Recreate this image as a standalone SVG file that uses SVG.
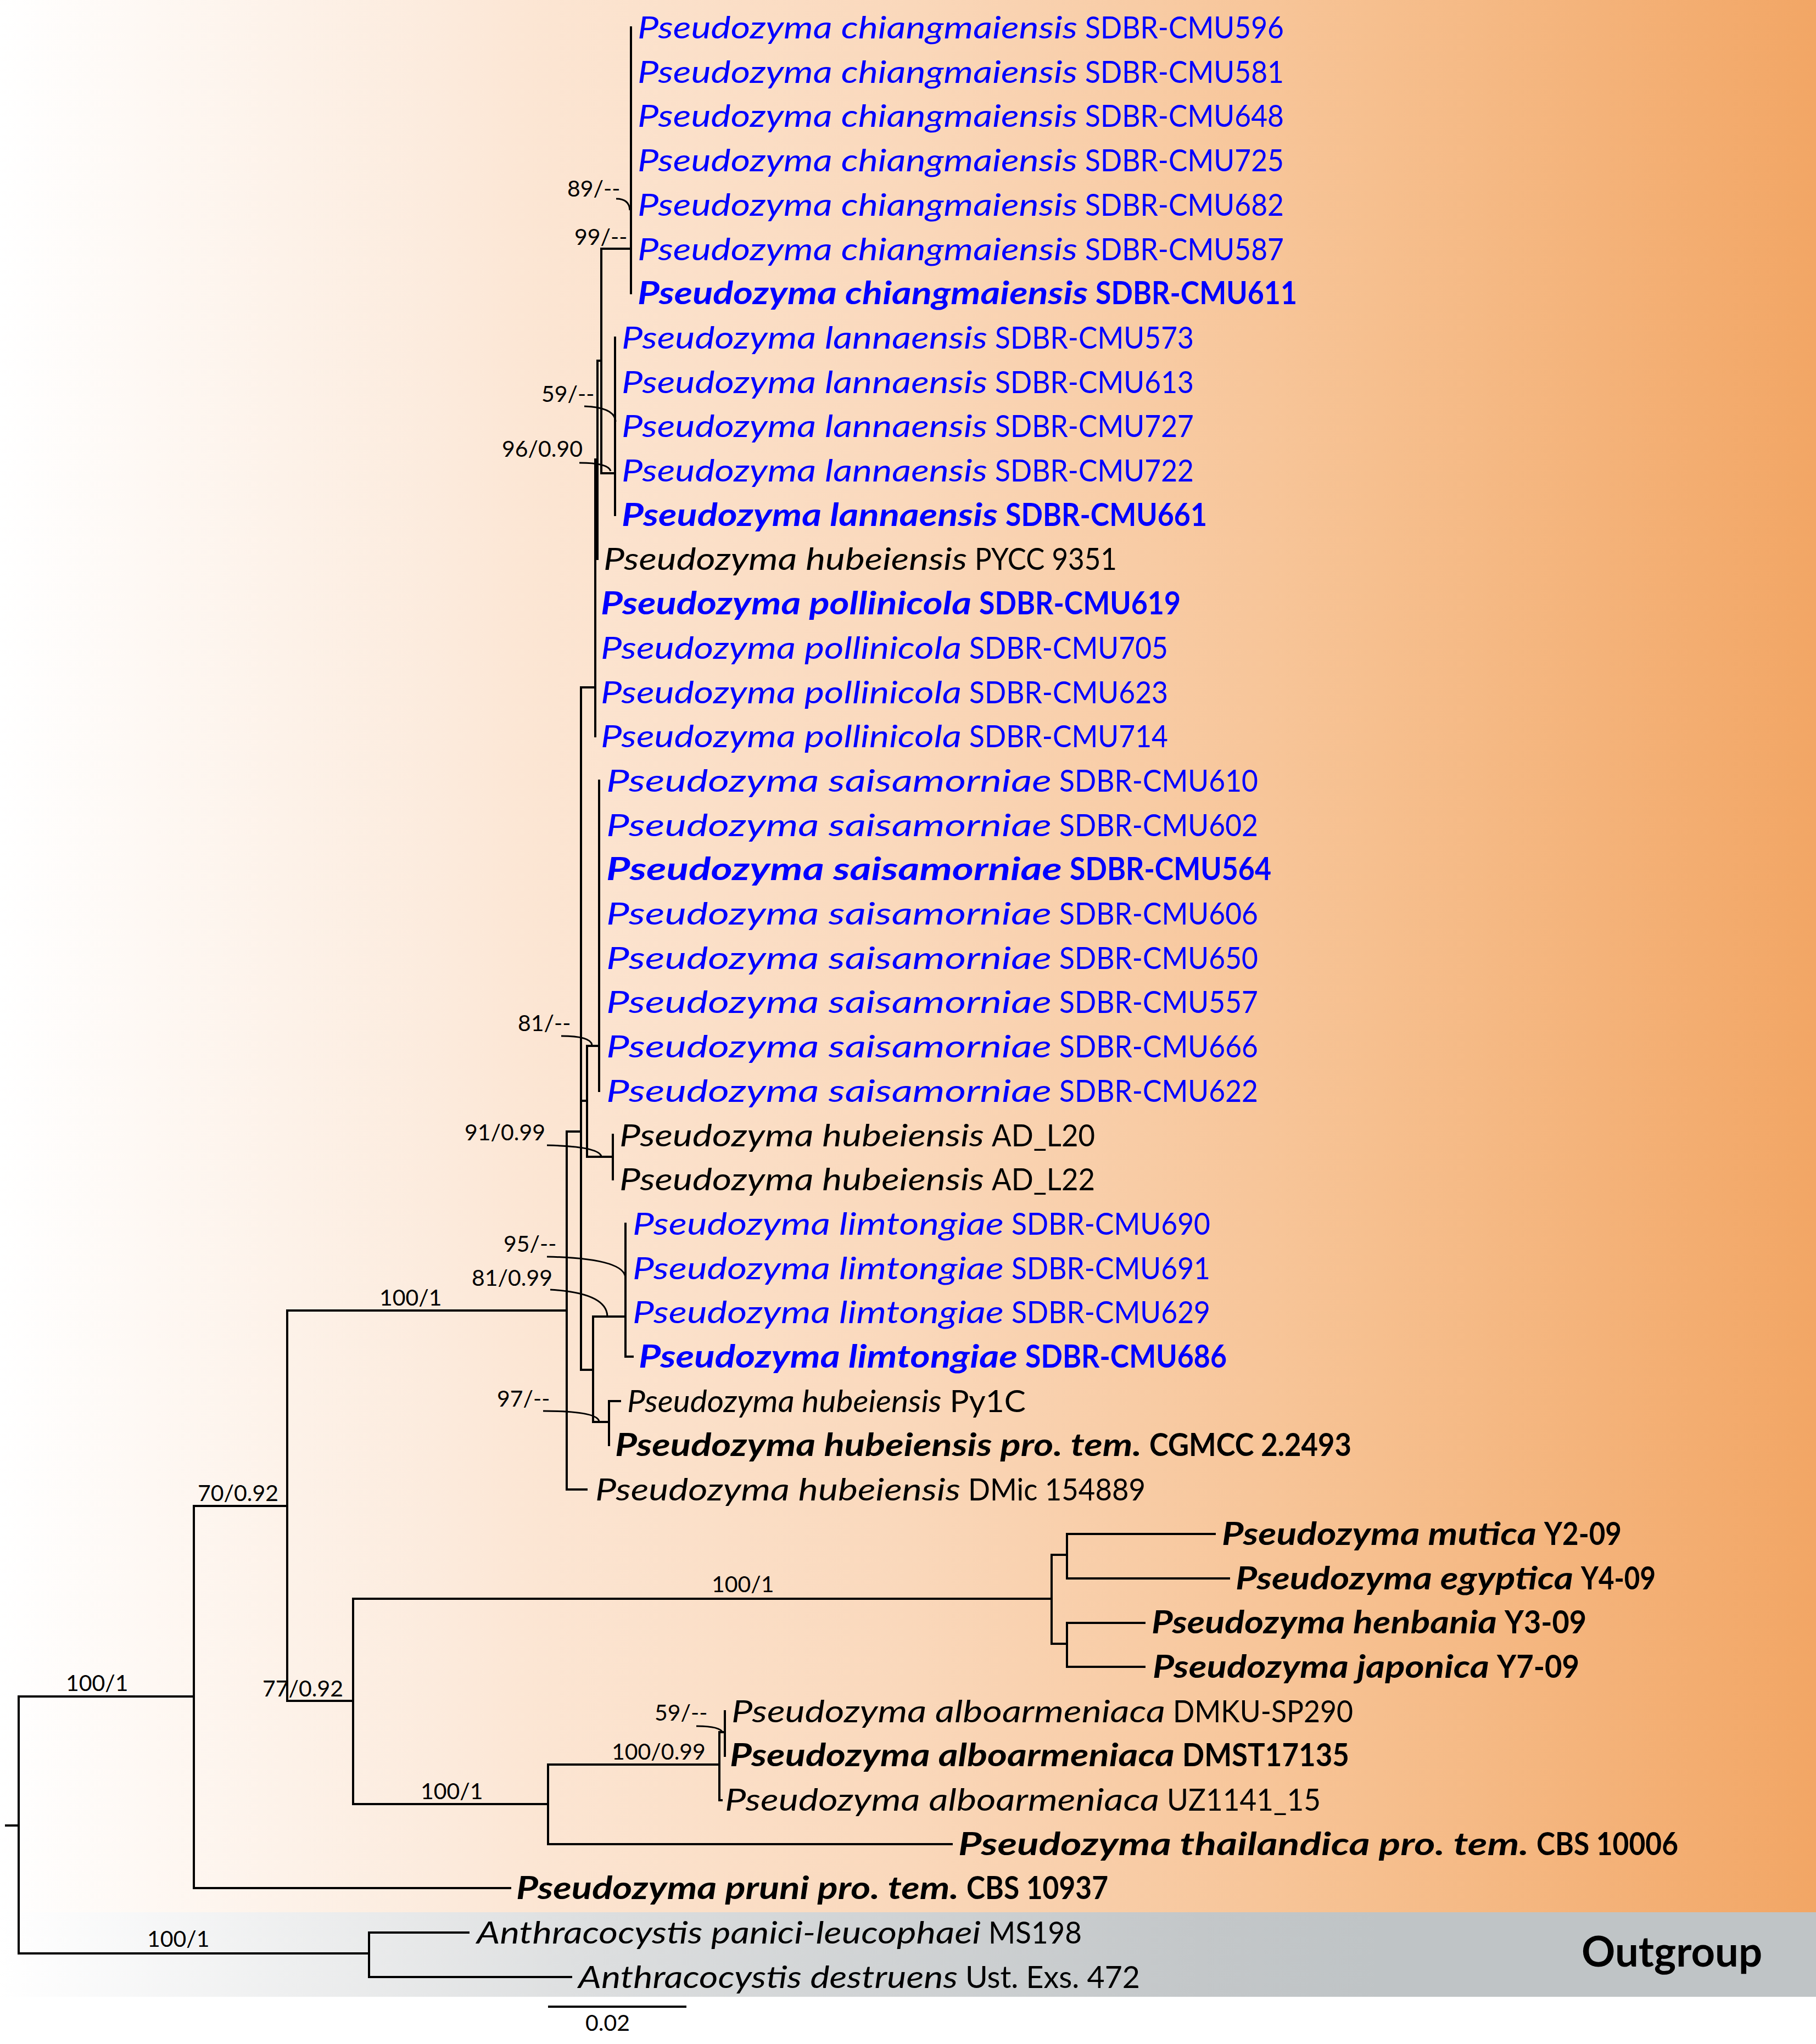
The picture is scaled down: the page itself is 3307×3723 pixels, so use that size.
<svg xmlns="http://www.w3.org/2000/svg" width="3307" height="3723" viewBox="0 0 3307 3723">
<defs>
<linearGradient id="og" x1="0" y1="0" x2="1" y2="0">
<stop offset="0" stop-color="#FFFFFF"/>
<stop offset="0.24" stop-color="#FCEBDD"/>
<stop offset="0.29" stop-color="#FCE6D4"/>
<stop offset="0.5" stop-color="#FAD8BB"/>
<stop offset="0.76" stop-color="#F6BF8E"/>
<stop offset="1" stop-color="#F2A665"/>
</linearGradient>
<linearGradient id="gg" x1="0" y1="0" x2="1" y2="0">
<stop offset="0" stop-color="#FFFFFF"/>
<stop offset="0.33" stop-color="#DCDEDF"/>
<stop offset="0.66" stop-color="#C3C7C9"/>
<stop offset="0.76" stop-color="#BFC4C6"/>
<stop offset="1" stop-color="#BFC4C6"/>
</linearGradient>
<style>
.t{font-family:Lato,'Open Sans','Liberation Sans',sans-serif;font-size:57px}
.b{fill:#0000FF}
.k{fill:#000000}
.i{font-style:italic}
.bd{font-weight:bold}
.s{font-family:Lato,'Liberation Sans',sans-serif;font-size:41px;fill:#000}
.br{stroke:#000;stroke-width:4;fill:none;stroke-linecap:square}
.ld{stroke:#000;stroke-width:3;fill:none}
.og{font-family:Lato,'Liberation Sans',sans-serif;font-size:76px;font-weight:bold;fill:#000}
</style>
</defs>
<rect x="0" y="0" width="3307" height="3723" fill="#FFFFFF"/>
<rect x="0" y="0" width="3307" height="3483" fill="url(#og)"/>
<rect x="0" y="3483" width="3307" height="154" fill="url(#gg)"/>

<g id="connectors">
<path class="br" d="M11,3325H34 M34,3090V3558 M34,3090H353 M34,3558H672 M672,3520V3601 M672,3520H853 M672,3601H1040
M353,2743V3439 M353,2743H523 M353,3439H929
M523,2387V3098 M523,2387H1032 M523,3098H643
M643,2912V3286 M643,2912H1915 M643,3286H998
M1915,2832V2994 M1915,2832H1943 M1915,2994H1943
M1943,2794V2875 M1943,2794H2212 M1943,2875H2238
M1943,2956V3036 M1943,2956H2084 M1943,3036H2084
M998,3214V3359 M998,3214H1310 M998,3359H1733
M1310,3155V3279 M1310,3155H1320 M1320,3117V3198 M1310,3279H1314
M1032,2061V2713 M1032,2061H1058 M1032,2713H1068
M1058,1252V2495 M1058,1252H1084 M1058,2005H1069 M1058,2495H1080
M1069,1905V2107 M1069,1905H1091 M1069,2107H1116
M1091,1422V1987 M1116,2067V2148
M1080,2398V2590 M1080,2398H1139 M1080,2590H1109
M1139,2229V2471 M1139,2471H1152
M1109,2552V2632 M1109,2552H1129
M1084,837V1341 M1084,837H1088
M1088,657V1018 M1088,657H1095
M1095,453V862 M1095,453H1149 M1095,862H1120
M1149,50V534 M1120,615V938
M1000,3655H1248"/>
<path class="ld" d="M1122,362Q1146,362 1147,383 M1064,740Q1120,742 1121,768 M1055,843Q1108,843 1112,858 M1022,1887Q1075,1887 1078,1903 M996,2086Q1090,2088 1095,2106 M996,2289Q1138,2292 1139,2328 M1002,2349Q1104,2355 1106,2397 M989,2570Q1088,2570 1091,2589 M1268,3144Q1312,3144 1316,3156"/>
</g>

<g id="supports">
<text class="s" x="1033" y="358">89/--</text>
<text class="s" x="1046" y="446">99/--</text>
<text class="s" x="986" y="732">59/--</text>
<text class="s" x="914" y="832">96/0.90</text>
<text class="s" x="943" y="1878">81/--</text>
<text class="s" x="846" y="2077">91/0.99</text>
<text class="s" x="917" y="2280">95/--</text>
<text class="s" x="859" y="2342">81/0.99</text>
<text class="s" x="905" y="2562">97/--</text>
<text class="s" x="691" y="2378">100/1</text>
<text class="s" x="360" y="2734">70/0.92</text>
<text class="s" x="1296" y="2900">100/1</text>
<text class="s" x="478" y="3090">77/0.92</text>
<text class="s" x="1192" y="3134">59/--</text>
<text class="s" x="1114" y="3205">100/0.99</text>
<text class="s" x="766" y="3277">100/1</text>
<text class="s" x="120" y="3080">100/1</text>
<text class="s" x="268" y="3546">100/1</text>
<text class="s" x="1066" y="3699">0.02</text>
</g>

<g id="n0"><text class="t b i" x="1161" y="70" textLength="801" lengthAdjust="spacingAndGlyphs">Pseudozyma chiangmaiensis</text><text class="t b" x="1976" y="70" textLength="362" lengthAdjust="spacingAndGlyphs">SDBR-CMU596</text></g>
<g id="n1"><text class="t b i" x="1161" y="150.7" textLength="801" lengthAdjust="spacingAndGlyphs">Pseudozyma chiangmaiensis</text><text class="t b" x="1976" y="150.7" textLength="362" lengthAdjust="spacingAndGlyphs">SDBR-CMU581</text></g>
<g id="n2"><text class="t b i" x="1161" y="231.4" textLength="801" lengthAdjust="spacingAndGlyphs">Pseudozyma chiangmaiensis</text><text class="t b" x="1976" y="231.4" textLength="362" lengthAdjust="spacingAndGlyphs">SDBR-CMU648</text></g>
<g id="n3"><text class="t b i" x="1161" y="312.1" textLength="801" lengthAdjust="spacingAndGlyphs">Pseudozyma chiangmaiensis</text><text class="t b" x="1976" y="312.1" textLength="362" lengthAdjust="spacingAndGlyphs">SDBR-CMU725</text></g>
<g id="n4"><text class="t b i" x="1161" y="392.8" textLength="801" lengthAdjust="spacingAndGlyphs">Pseudozyma chiangmaiensis</text><text class="t b" x="1976" y="392.8" textLength="362" lengthAdjust="spacingAndGlyphs">SDBR-CMU682</text></g>
<g id="n5"><text class="t b i" x="1161" y="473.5" textLength="801" lengthAdjust="spacingAndGlyphs">Pseudozyma chiangmaiensis</text><text class="t b" x="1976" y="473.5" textLength="362" lengthAdjust="spacingAndGlyphs">SDBR-CMU587</text></g>
<g id="n6"><text class="t b i bd" x="1161" y="554.2" textLength="820" lengthAdjust="spacingAndGlyphs">Pseudozyma chiangmaiensis</text><text class="t b bd" x="1995" y="554.2" textLength="367" lengthAdjust="spacingAndGlyphs">SDBR-CMU611</text></g>
<g id="n7"><text class="t b i" x="1132" y="634.9" textLength="666" lengthAdjust="spacingAndGlyphs">Pseudozyma lannaensis</text><text class="t b" x="1812" y="634.9" textLength="362" lengthAdjust="spacingAndGlyphs">SDBR-CMU573</text></g>
<g id="n8"><text class="t b i" x="1132" y="715.6" textLength="666" lengthAdjust="spacingAndGlyphs">Pseudozyma lannaensis</text><text class="t b" x="1812" y="715.6" textLength="362" lengthAdjust="spacingAndGlyphs">SDBR-CMU613</text></g>
<g id="n9"><text class="t b i" x="1132" y="796.3" textLength="666" lengthAdjust="spacingAndGlyphs">Pseudozyma lannaensis</text><text class="t b" x="1812" y="796.3" textLength="362" lengthAdjust="spacingAndGlyphs">SDBR-CMU727</text></g>
<g id="n10"><text class="t b i" x="1132" y="877" textLength="666" lengthAdjust="spacingAndGlyphs">Pseudozyma lannaensis</text><text class="t b" x="1812" y="877" textLength="362" lengthAdjust="spacingAndGlyphs">SDBR-CMU722</text></g>
<g id="n11"><text class="t b i bd" x="1132" y="957.7" textLength="685" lengthAdjust="spacingAndGlyphs">Pseudozyma lannaensis</text><text class="t b bd" x="1831" y="957.7" textLength="367" lengthAdjust="spacingAndGlyphs">SDBR-CMU661</text></g>
<g id="n12"><text class="t k i" x="1099" y="1038.4" textLength="662" lengthAdjust="spacingAndGlyphs">Pseudozyma hubeiensis</text><text class="t k" x="1775" y="1038.4" textLength="259" lengthAdjust="spacingAndGlyphs">PYCC 9351</text></g>
<g id="n13"><text class="t b i bd" x="1094" y="1119.1" textLength="675" lengthAdjust="spacingAndGlyphs">Pseudozyma pollinicola</text><text class="t b bd" x="1783" y="1119.1" textLength="367" lengthAdjust="spacingAndGlyphs">SDBR-CMU619</text></g>
<g id="n14"><text class="t b i" x="1094" y="1199.8" textLength="657" lengthAdjust="spacingAndGlyphs">Pseudozyma pollinicola</text><text class="t b" x="1765" y="1199.8" textLength="362" lengthAdjust="spacingAndGlyphs">SDBR-CMU705</text></g>
<g id="n15"><text class="t b i" x="1094" y="1280.5" textLength="657" lengthAdjust="spacingAndGlyphs">Pseudozyma pollinicola</text><text class="t b" x="1765" y="1280.5" textLength="362" lengthAdjust="spacingAndGlyphs">SDBR-CMU623</text></g>
<g id="n16"><text class="t b i" x="1094" y="1361.2" textLength="657" lengthAdjust="spacingAndGlyphs">Pseudozyma pollinicola</text><text class="t b" x="1765" y="1361.2" textLength="362" lengthAdjust="spacingAndGlyphs">SDBR-CMU714</text></g>
<g id="n17"><text class="t b i" x="1104" y="1441.9" textLength="811" lengthAdjust="spacingAndGlyphs">Pseudozyma saisamorniae</text><text class="t b" x="1929" y="1441.9" textLength="362" lengthAdjust="spacingAndGlyphs">SDBR-CMU610</text></g>
<g id="n18"><text class="t b i" x="1104" y="1522.6" textLength="811" lengthAdjust="spacingAndGlyphs">Pseudozyma saisamorniae</text><text class="t b" x="1929" y="1522.6" textLength="362" lengthAdjust="spacingAndGlyphs">SDBR-CMU602</text></g>
<g id="n19"><text class="t b i bd" x="1104" y="1603.3" textLength="830" lengthAdjust="spacingAndGlyphs">Pseudozyma saisamorniae</text><text class="t b bd" x="1948" y="1603.3" textLength="367" lengthAdjust="spacingAndGlyphs">SDBR-CMU564</text></g>
<g id="n20"><text class="t b i" x="1104" y="1684" textLength="811" lengthAdjust="spacingAndGlyphs">Pseudozyma saisamorniae</text><text class="t b" x="1929" y="1684" textLength="362" lengthAdjust="spacingAndGlyphs">SDBR-CMU606</text></g>
<g id="n21"><text class="t b i" x="1104" y="1764.7" textLength="811" lengthAdjust="spacingAndGlyphs">Pseudozyma saisamorniae</text><text class="t b" x="1929" y="1764.7" textLength="362" lengthAdjust="spacingAndGlyphs">SDBR-CMU650</text></g>
<g id="n22"><text class="t b i" x="1104" y="1845.4" textLength="811" lengthAdjust="spacingAndGlyphs">Pseudozyma saisamorniae</text><text class="t b" x="1929" y="1845.4" textLength="362" lengthAdjust="spacingAndGlyphs">SDBR-CMU557</text></g>
<g id="n23"><text class="t b i" x="1104" y="1926.1" textLength="811" lengthAdjust="spacingAndGlyphs">Pseudozyma saisamorniae</text><text class="t b" x="1929" y="1926.1" textLength="362" lengthAdjust="spacingAndGlyphs">SDBR-CMU666</text></g>
<g id="n24"><text class="t b i" x="1104" y="2006.8" textLength="811" lengthAdjust="spacingAndGlyphs">Pseudozyma saisamorniae</text><text class="t b" x="1929" y="2006.8" textLength="362" lengthAdjust="spacingAndGlyphs">SDBR-CMU622</text></g>
<g id="n25"><text class="t k i" x="1128" y="2087.5" textLength="664" lengthAdjust="spacingAndGlyphs">Pseudozyma hubeiensis</text><text class="t k" x="1806" y="2087.5" textLength="188" lengthAdjust="spacingAndGlyphs">AD_L20</text></g>
<g id="n26"><text class="t k i" x="1128" y="2168.2" textLength="664" lengthAdjust="spacingAndGlyphs">Pseudozyma hubeiensis</text><text class="t k" x="1806" y="2168.2" textLength="188" lengthAdjust="spacingAndGlyphs">AD_L22</text></g>
<g id="n27"><text class="t b i" x="1152" y="2248.9" textLength="676" lengthAdjust="spacingAndGlyphs">Pseudozyma limtongiae</text><text class="t b" x="1842" y="2248.9" textLength="362" lengthAdjust="spacingAndGlyphs">SDBR-CMU690</text></g>
<g id="n28"><text class="t b i" x="1152" y="2329.6" textLength="676" lengthAdjust="spacingAndGlyphs">Pseudozyma limtongiae</text><text class="t b" x="1842" y="2329.6" textLength="362" lengthAdjust="spacingAndGlyphs">SDBR-CMU691</text></g>
<g id="n29"><text class="t b i" x="1152" y="2410.3" textLength="676" lengthAdjust="spacingAndGlyphs">Pseudozyma limtongiae</text><text class="t b" x="1842" y="2410.3" textLength="362" lengthAdjust="spacingAndGlyphs">SDBR-CMU629</text></g>
<g id="n30"><text class="t b i bd" x="1163" y="2491" textLength="690" lengthAdjust="spacingAndGlyphs">Pseudozyma limtongiae</text><text class="t b bd" x="1867" y="2491" textLength="367" lengthAdjust="spacingAndGlyphs">SDBR-CMU686</text></g>
<g id="n31"><text class="t k" x="1142" y="2571.7" textLength="726" lengthAdjust="spacingAndGlyphs"><tspan class="i">Pseudozyma hubeiensis</tspan> Py1C</text></g>
<g id="n32"><text class="t k i bd" x="1120" y="2652.4" textLength="959" lengthAdjust="spacingAndGlyphs">Pseudozyma hubeiensis pro. tem.</text><text class="t k bd" x="2093" y="2652.4" textLength="368" lengthAdjust="spacingAndGlyphs">CGMCC 2.2493</text></g>
<g id="n33"><text class="t k i" x="1084" y="2733.1" textLength="665" lengthAdjust="spacingAndGlyphs">Pseudozyma hubeiensis</text><text class="t k" x="1763" y="2733.1" textLength="323" lengthAdjust="spacingAndGlyphs">DMic 154889</text></g>
<g id="n34"><text class="t k i bd" x="2225" y="2813.8" textLength="573" lengthAdjust="spacingAndGlyphs">Pseudozyma mutica</text><text class="t k bd" x="2812" y="2813.8" textLength="141" lengthAdjust="spacingAndGlyphs">Y2-09</text></g>
<g id="n35"><text class="t k i bd" x="2250" y="2894.5" textLength="615" lengthAdjust="spacingAndGlyphs">Pseudozyma egyptica</text><text class="t k bd" x="2879" y="2894.5" textLength="136" lengthAdjust="spacingAndGlyphs">Y4-09</text></g>
<g id="n36"><text class="t k i bd" x="2097" y="2975.2" textLength="629" lengthAdjust="spacingAndGlyphs">Pseudozyma henbania</text><text class="t k bd" x="2740" y="2975.2" textLength="149" lengthAdjust="spacingAndGlyphs">Y3-09</text></g>
<g id="n37"><text class="t k i bd" x="2099" y="3055.9" textLength="613" lengthAdjust="spacingAndGlyphs">Pseudozyma japonica</text><text class="t k bd" x="2726" y="3055.9" textLength="150" lengthAdjust="spacingAndGlyphs">Y7-09</text></g>
<g id="n38"><text class="t k i" x="1332" y="3136.6" textLength="790" lengthAdjust="spacingAndGlyphs">Pseudozyma alboarmeniaca</text><text class="t k" x="2136" y="3136.6" textLength="328" lengthAdjust="spacingAndGlyphs">DMKU-SP290</text></g>
<g id="n39"><text class="t k i bd" x="1329" y="3217.3" textLength="810" lengthAdjust="spacingAndGlyphs">Pseudozyma alboarmeniaca</text><text class="t k bd" x="2153" y="3217.3" textLength="304" lengthAdjust="spacingAndGlyphs">DMST17135</text></g>
<g id="n40"><text class="t k i" x="1320" y="3298" textLength="791" lengthAdjust="spacingAndGlyphs">Pseudozyma alboarmeniaca</text><text class="t k" x="2125" y="3298" textLength="280" lengthAdjust="spacingAndGlyphs">UZ1141_15</text></g>
<g id="n41"><text class="t k i bd" x="1745" y="3378.7" textLength="1039" lengthAdjust="spacingAndGlyphs">Pseudozyma thailandica pro. tem.</text><text class="t k bd" x="2798" y="3378.7" textLength="258" lengthAdjust="spacingAndGlyphs">CBS 10006</text></g>
<g id="n42"><text class="t k i bd" x="940" y="3459.4" textLength="806" lengthAdjust="spacingAndGlyphs">Pseudozyma pruni pro. tem.</text><text class="t k bd" x="1760" y="3459.4" textLength="258" lengthAdjust="spacingAndGlyphs">CBS 10937</text></g>
<g id="n43"><text class="t k i" x="868" y="3540.1" textLength="918" lengthAdjust="spacingAndGlyphs">Anthracocystis panici-leucophaei</text><text class="t k" x="1800" y="3540.1" textLength="170" lengthAdjust="spacingAndGlyphs">MS198</text></g>
<g id="n44"><text class="t k i" x="1053" y="3620.8" textLength="691" lengthAdjust="spacingAndGlyphs">Anthracocystis destruens</text><text class="t k" x="1758" y="3620.8" textLength="318" lengthAdjust="spacingAndGlyphs">Ust. Exs. 472</text></g>
<g id="outgroup"><text class="og" x="2880" y="3582">Outgroup</text></g>
</svg>
